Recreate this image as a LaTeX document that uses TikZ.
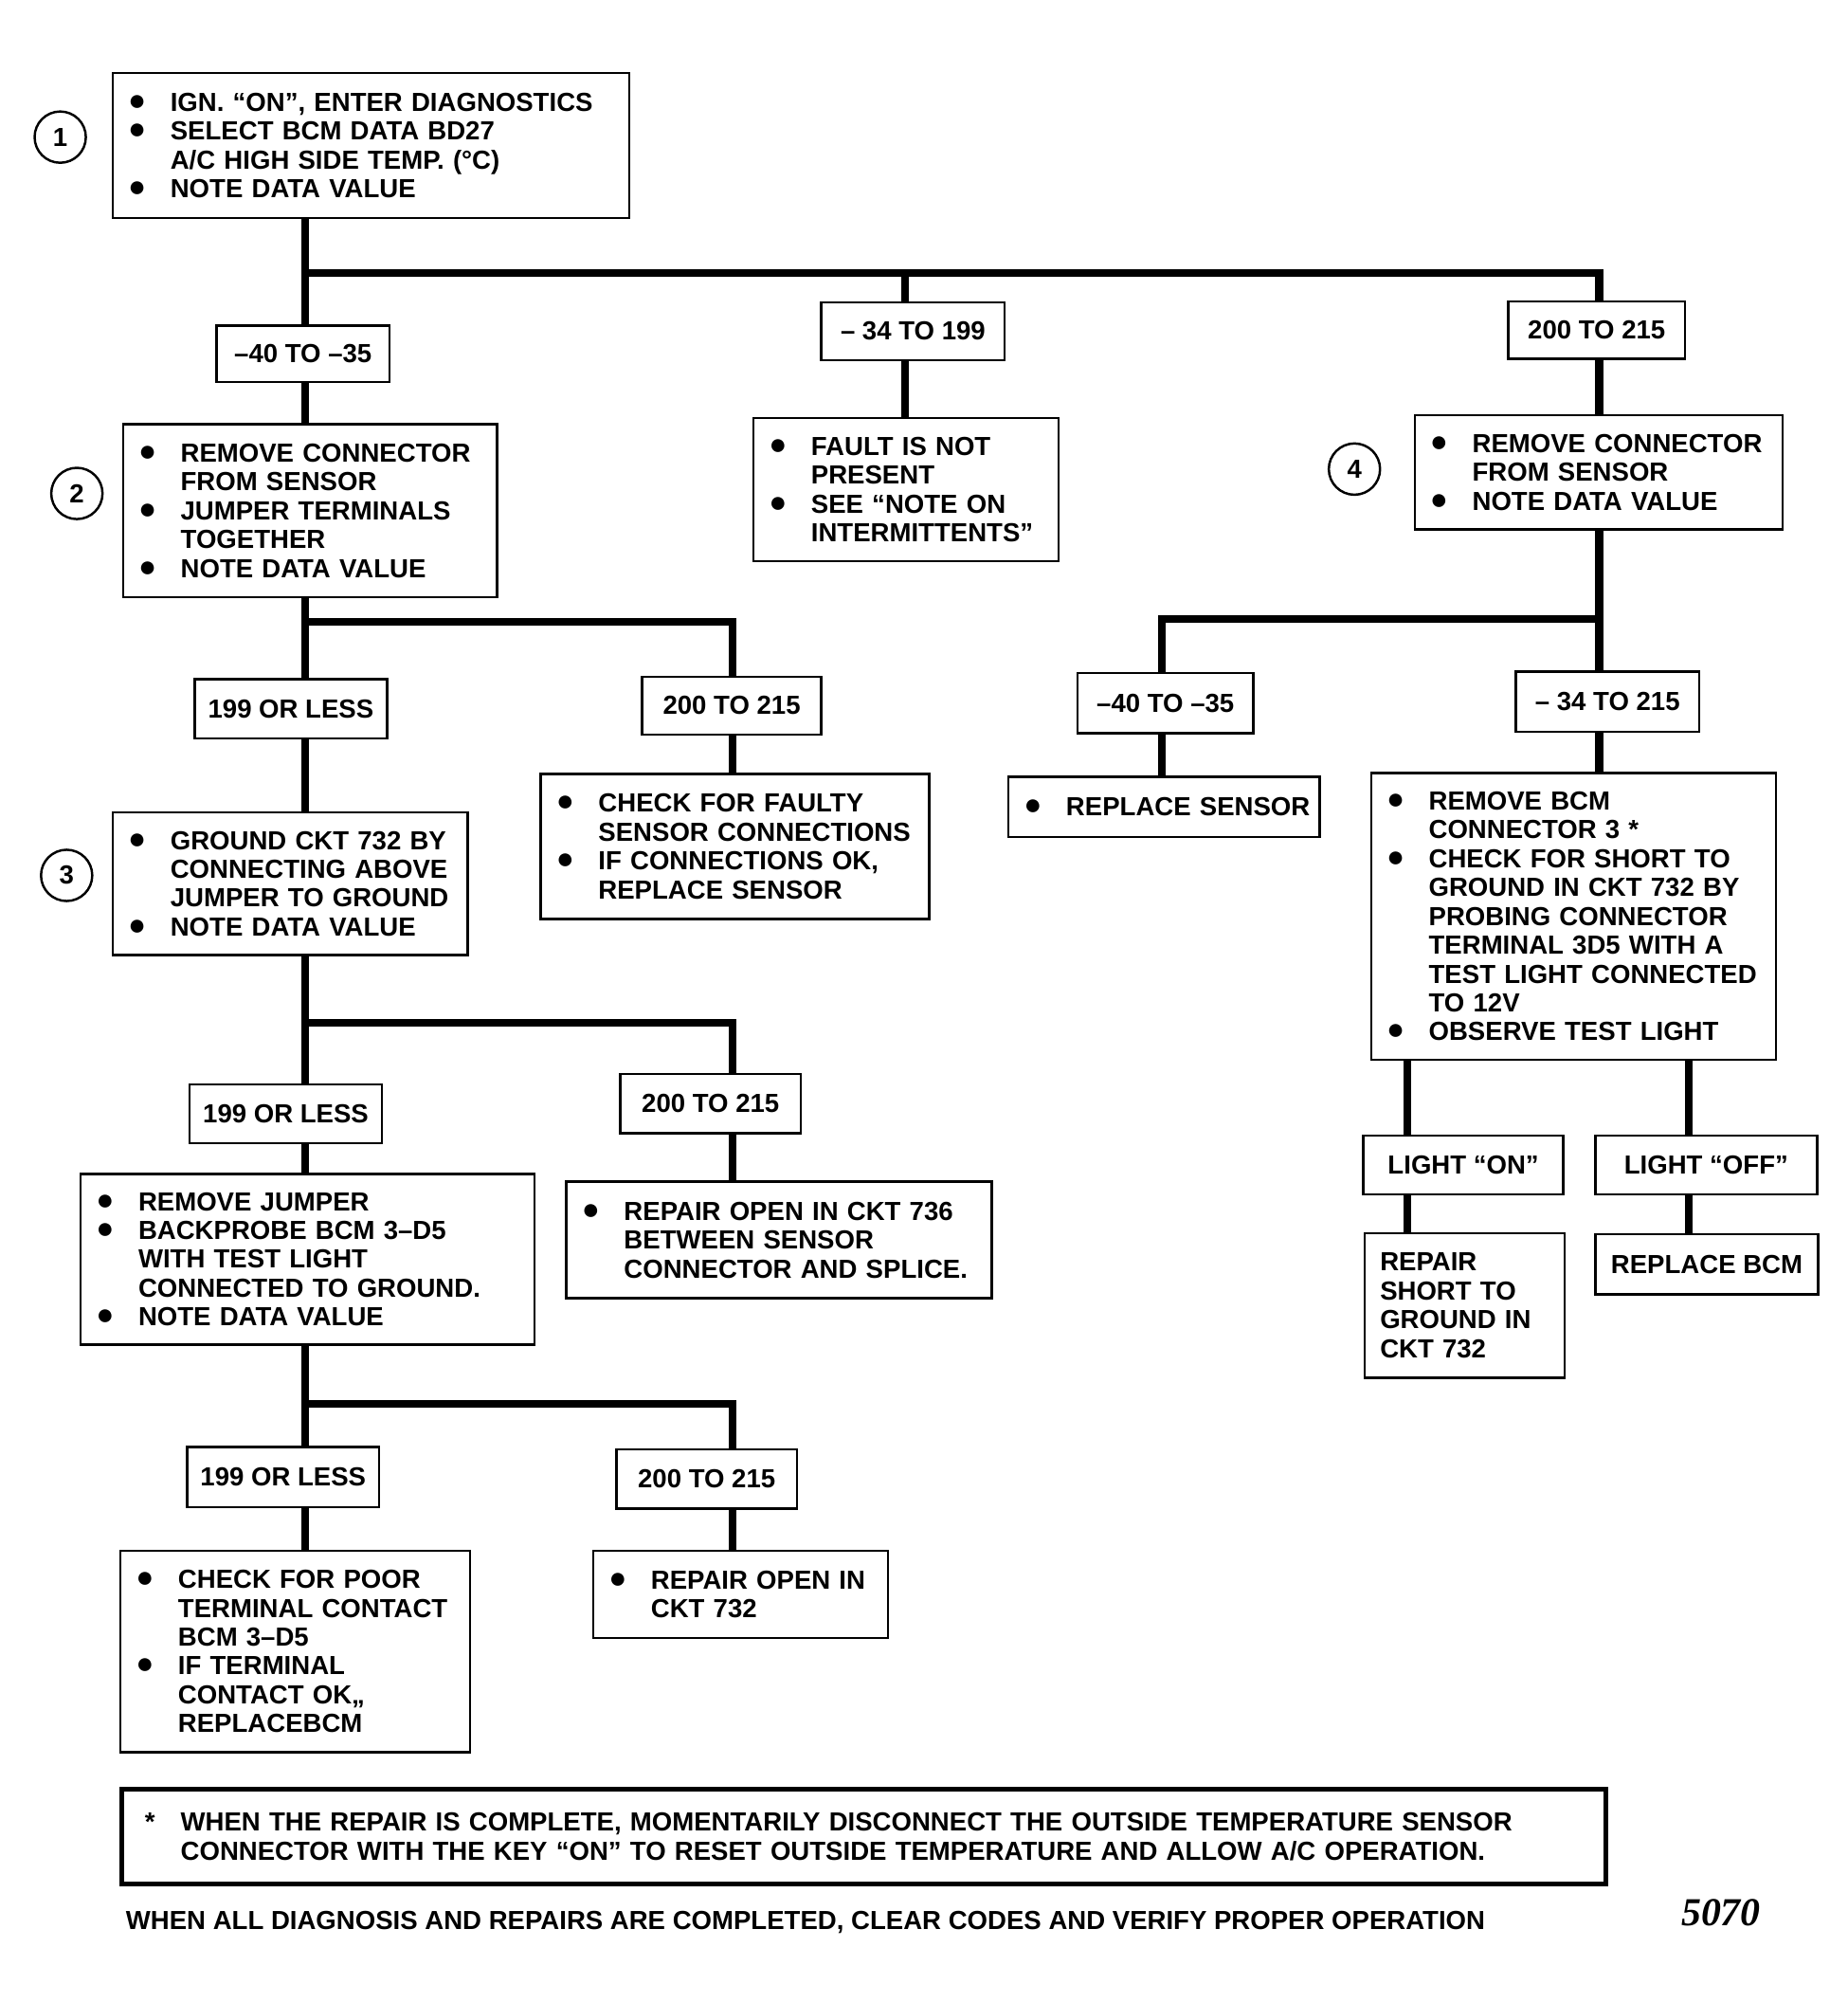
\documentclass[tikz,border=0pt]{standalone}
\usepackage{fontspec}
\usepackage{graphicx}
\usepackage{tikz}
\setmainfont{Liberation Sans}
\newfontfamily\numfont{Liberation Serif}
\newlength\px
\setlength\px{0.025cm}
\newlength\bulw
\setlength\bulw{33\px}
\newcommand\boxfont{\fontsize{14.5}{16}\selectfont\bfseries}
\newcommand\bul[1]{\makebox[\bulw][l]{\smash{\raisebox{0.5pt}{\scalebox{1.15}{●}}}}\mbox{#1}}
\newcommand\ind[1]{\hspace*{\bulw}\mbox{#1}}
\tikzset{box/.style 2 args = {draw, line width = 1.3pt, inner xsep = 12\px, inner ysep = 0pt,
                              align = left, text width = #1\px, minimum height = #2\px, font = \boxfont}}
\tikzset{range/.style 2 args = {draw, line width = 1.3pt, inner sep = 0pt,
                                minimum width = #1\px, minimum height = #2\px, font = \boxfont}}
\tikzset{stepnum/.style = {draw, circle, line width = 1.3pt, inner sep = 0, minimum size = 40\px, font = \boxfont}}
\tikzset{wire/.style = {line width = 6\px, line join = miter}}

\begin{document}
\begin{tikzpicture}[x = 0.025cm, y = -0.025cm]
      \useasboundingbox (0, 0) rectangle (1442, 1562);

      \node [stepnum] (c1) at (47, 107) {1};
      \node [stepnum] (c2) at (60, 385) {2};
      \node [stepnum] (c3) at (52, 683) {3};
      \node [stepnum] (c4) at (1057, 366) {4};

      \node [box = {379}{113}] (b1) at (289.5, 113.5) {\bul{IGN. “ON”, ENTER DIAGNOSTICS}\\
        \bul{SELECT BCM DATA BD27}\\ \ind{A/C HIGH SIDE TEMP. (°C)}\\ \bul{NOTE  DATA VALUE}};

      \node [range = {135}{44}] (l1a) at (236.5, 276) {–40 TO –35};
      \node [range = {143}{45}] (l1b) at (712.5, 258.5) {– 34 TO 199};
      \node [range = {138}{45}] (l1c) at (1246, 257.5) {200 TO 215};

      \node [box = {268}{135}] (b2) at (242, 398.5) {\bul{REMOVE CONNECTOR}\\ \ind{FROM SENSOR}\\
        \bul{JUMPER TERMINALS}\\ \ind{TOGETHER}\\ \bul{NOTE DATA VALUE}};
      \node [box = {214}{112}] (bfault) at (707, 382) {\bul{FAULT IS NOT}\\ \ind{PRESENT}\\
        \bul{SEE “NOTE ON}\\ \ind{INTERMITTENTS”}};
      \node [box = {263}{89}] (b4) at (1247.5, 368.5) {\bul{REMOVE CONNECTOR}\\ \ind{FROM SENSOR}\\
        \bul{NOTE DATA VALUE}};

      \node [range = {150}{46}] (l2a) at (227, 553) {199 OR LESS};
      \node [range = {140}{45}] (l2b) at (571, 550.5) {200 TO 215};
      \node [range = {137}{47}] (l4a) at (909.5, 548.5) {–40 TO –35};
      \node [range = {143}{47}] (l4b) at (1254.5, 547.5) {– 34 TO 215};

      \node [box = {253}{111}] (b3) at (226.5, 689.5) {\bul{GROUND CKT 732 BY}\\ \ind{CONNECTING ABOVE}\\
        \ind{JUMPER TO GROUND}\\ \bul{NOTE DATA VALUE}};
      \node [box = {279}{113}] (bcheck) at (573.5, 660.5) {\bul{CHECK FOR FAULTY}\\
        \ind{SENSOR CONNECTIONS}\\ \bul{IF CONNECTIONS OK,}\\ \ind{REPLACE SENSOR}};
      \node [box = {219}{47}] (brepl) at (908.5, 629.5) {\bul{REPLACE SENSOR}};
      \node [box = {292}{224}] (bbig) at (1228, 715) {\bul{REMOVE BCM}\\ \ind{CONNECTOR 3 *}\\
        \bul{CHECK FOR SHORT TO}\\ \ind{GROUND IN CKT 732 BY}\\ \ind{PROBING CONNECTOR}\\
        \ind{TERMINAL 3D5 WITH A}\\ \ind{TEST LIGHT CONNECTED}\\ \ind{TO 12V}\\ \bul{OBSERVE TEST LIGHT}};

      \node [range = {156}{46}] (lon) at (1142, 909) {LIGHT “ON”};
      \node [range = {173}{46}] (loff) at (1331.5, 909) {LIGHT “OFF”};
      \node [box = {132}{113}] (bshort) at (1143, 1018.5) {REPAIR\\ SHORT TO\\ GROUND IN\\ CKT 732};
      \node [range = {174}{47}] (bbcm) at (1332, 986.5) {REPLACE BCM};

      \node [range = {150}{46}] (l3a) at (223, 869) {199 OR LESS};
      \node [range = {141}{46}] (l3b) at (554.5, 861) {200 TO 215};
      \node [box = {330}{133}] (b5) at (240, 982.5) {\bul{REMOVE JUMPER}\\ \bul{BACKPROBE BCM 3–D5}\\
        \ind{WITH TEST LIGHT}\\ \ind{CONNECTED TO GROUND.}\\ \bul{NOTE DATA VALUE}};
      \node [box = {308}{91}] (bopena) at (608, 967.5) {\bul{REPAIR OPEN  IN CKT 736}\\
        \ind{BETWEEN SENSOR}\\ \ind{CONNECTOR AND SPLICE.}};

      \node [range = {150}{47}] (l5a) at (221, 1152.5) {199 OR LESS};
      \node [range = {141}{46}] (l5b) at (551.5, 1154) {200 TO 215};
      \node [box = {249}{157}] (bpoor) at (230.5, 1288.5) {\bul{CHECK FOR POOR}\\ \ind{TERMINAL CONTACT}\\
        \ind{BCM 3–D5}\\ \bul{IF TERMINAL}\\ \ind{CONTACT OK,,}\\ \ind{REPLACEBCM}};
      \node [box = {206}{68}] (bopenb) at (578, 1244) {\bul{REPAIR OPEN IN}\\ \ind{CKT 732}};

      \node [box = {1122}{74}, line width = 4\px, inner xsep = 18\px] (note) at (674, 1433)
        {\makebox[28\px][l]{*}WHEN THE REPAIR IS COMPLETE, MOMENTARILY DISCONNECT THE OUTSIDE TEMPERATURE SENSOR\\
        \hspace*{28\px}CONNECTOR WITH THE KEY “ON” TO RESET OUTSIDE TEMPERATURE AND ALLOW A/C OPERATION.};
      \node [anchor = west, inner sep = 0, font = \boxfont] (final) at (98, 1500)
        {WHEN ALL DIAGNOSIS AND REPAIRS ARE COMPLETED, CLEAR CODES AND VERIFY PROPER OPERATION};
      \node [inner sep = 0, font = \numfont\bfseries\itshape\fontsize{22}{24}\selectfont] (fig) at (1343, 1492) {5070};

      \coordinate (j1) at (238, 213);
      \coordinate (k1) at (706, 213);
      \coordinate (m1) at (1248, 213);
      \coordinate (j2) at (238, 485);
      \coordinate (k2) at (572, 485);
      \coordinate (j4) at (1248, 483);
      \coordinate (k4) at (907, 483);
      \coordinate (p5) at (1098, 827);
      \coordinate (q5) at (1318, 827);
      \coordinate (j3) at (238, 798);
      \coordinate (k3) at (572, 798);
      \coordinate (j5) at (238, 1095);
      \coordinate (k5) at (572, 1095);

      \draw [wire] (b1.south -| j1) -- (l1a.north -| j1);
      \draw [wire] (j1) -- (m1) -- (l1c.north -| m1);
      \draw [wire] (k1) -- (l1b.north -| k1);
      \draw [wire] (l1a.south -| j1) -- (b2.north -| j1);
      \draw [wire] (l1b.south -| k1) -- (bfault.north -| k1);
      \draw [wire] (l1c.south -| m1) -- (b4.north -| m1);

      \draw [wire] (b2.south -| j2) -- (l2a.north -| j2);
      \draw [wire] (j2) -- (k2) -- (l2b.north -| k2);
      \draw [wire] (l2a.south -| j2) -- (b3.north -| j2);
      \draw [wire] (l2b.south -| k2) -- (bcheck.north -| k2);

      \draw [wire] (b4.south -| j4) -- (l4b.north -| j4);
      \draw [wire] (j4) -- (k4) -- (l4a.north -| k4);
      \draw [wire] (l4a.south -| k4) -- (brepl.north -| k4);
      \draw [wire] (l4b.south -| j4) -- (bbig.north -| j4);

      \draw [wire] (bbig.south -| p5) -- (lon.north -| p5);
      \draw [wire] (lon.south -| p5) -- (bshort.north -| p5);
      \draw [wire] (bbig.south -| q5) -- (loff.north -| q5);
      \draw [wire] (loff.south -| q5) -- (bbcm.north -| q5);

      \draw [wire] (b3.south -| j3) -- (l3a.north -| j3);
      \draw [wire] (j3) -- (k3) -- (l3b.north -| k3);
      \draw [wire] (l3a.south -| j3) -- (b5.north -| j3);
      \draw [wire] (l3b.south -| k3) -- (bopena.north -| k3);

      \draw [wire] (b5.south -| j5) -- (l5a.north -| j5);
      \draw [wire] (j5) -- (k5) -- (l5b.north -| k5);
      \draw [wire] (l5a.south -| j5) -- (bpoor.north -| j5);
      \draw [wire] (l5b.south -| k5) -- (bopenb.north -| k5);
    \end{tikzpicture}
\end{document}
